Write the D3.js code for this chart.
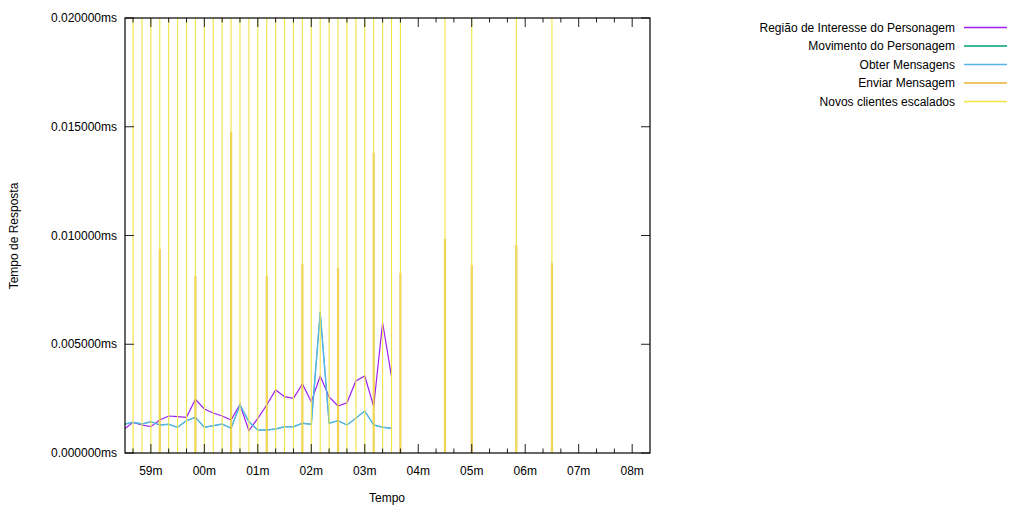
<!DOCTYPE html>
<html><head><meta charset="utf-8">
<script src="https://cdn.jsdelivr.net/npm/d3@7"></script>
<style>
html,body{margin:0;padding:0;background:#fff;}
text{font-family:"Liberation Sans",Arial,sans-serif;font-size:12px;fill:#000;}
</style></head>
<body>
<svg id="c" width="1024" height="512"></svg>
<script>
// ---- DATA (time in seconds relative to 00:59:00) ----
const lineTimes = [-29,-20,-10,0,10,20,30,40,50,60,70,80,90,100,110,120,130,140,150,160,170,180,190,200,210,220,230,240,250,260,270];
const regiaoValues = [0.001126,0.001411,0.001287,0.001209,0.001517,0.001701,0.001669,0.001641,0.002469,0.002023,0.001839,0.001701,0.001517,0.00223,0.001025,0.001595,0.002207,0.002897,0.002589,0.002515,0.003172,0.002359,0.00354,0.002575,0.002161,0.002313,0.00331,0.00354,0.002138,0.0060,0.003508];
const movimentoValues = [0.001333,0.001411,0.001333,0.001439,0.001287,0.00132,0.001182,0.001485,0.001641,0.001182,0.001255,0.001333,0.001136,0.002207,0.001439,0.001057,0.001057,0.001103,0.001209,0.001209,0.001366,0.00132,0.0065,0.001366,0.001485,0.001287,0.001595,0.001931,0.001287,0.001182,0.001136];
const obterValues = [0.001333,0.001411,0.001333,0.001439,0.001287,0.00132,0.001182,0.001485,0.001641,0.001182,0.001255,0.001333,0.001136,0.002207,0.001439,0.001057,0.001057,0.001103,0.001209,0.001209,0.001366,0.00132,0.006437,0.001366,0.001485,0.001287,0.001595,0.001931,0.001287,0.001182,0.001136];
const enviarTimes = [10,50,90,130,170,210,250,280,330,360,410,450];
const enviarValues = [0.00938,0.00814,0.01476,0.00814,0.0087,0.0085,0.0138,0.00828,0.00984,0.00864,0.00956,0.00874];
const novosTimes = [-20,-10,0,10,20,30,40,50,60,70,80,90,100,110,120,130,140,150,160,170,180,190,200,210,220,230,240,250,260,270,280,330,360,410,450];
const xDomainSec = [-29, 560];
const yTickValues = [0,0.005,0.01,0.015,0.02];
const xTickLabels = ["59m","00m","01m","02m","03m","04m","05m","06m","07m","08m"];
const seriesNames = ["Região de Interesse do Personagem","Movimento do Personagem","Obter Mensagens","Enviar Mensagem","Novos clientes escalados"];
const seriesColors = ["#a020f0","#009e73","#56b4e9","#e69f00","#f0e442"];

// ---- CHART ----
const base = Date.UTC(2000,0,1,0,59,0);
const toDate = s => new Date(base + s*1000);
const L=125, R=650, T=18, B=453;
const svg = d3.select("#c");
const x = d3.scaleUtc().domain(xDomainSec.map(toDate)).range([L,R]);
const y = d3.scaleLinear().domain([0,0.02]).range([B,T]);

const majorX = d3.utcMinute.range(toDate(0), toDate(541));
const minorX = d3.utcSecond.every(20).range(toDate(-20), toDate(560)).filter(d => d.getUTCSeconds()!==0);

const g = svg.append("g");
svg.append("clipPath").attr("id","clip").append("rect").attr("x",L).attr("y",T).attr("width",R-L).attr("height",B-T);
const plot = g.append("g").attr("clip-path","url(#clip)");

const line = d3.line().x((d,i)=>x(toDate(lineTimes[i]))).y(d=>y(d));
plot.append("path").datum(regiaoValues).attr("d",line).attr("fill","none").attr("stroke",seriesColors[0]).attr("stroke-width",1.2);
plot.append("path").datum(movimentoValues).attr("d",line).attr("fill","none").attr("stroke",seriesColors[1]).attr("stroke-width",0.8);
plot.append("path").datum(obterValues).attr("d",line).attr("fill","none").attr("stroke",seriesColors[2]).attr("stroke-width",1.4);

plot.selectAll("line.env").data(enviarValues).enter().append("line").attr("class","env")
  .attr("x1",(d,i)=>x(toDate(enviarTimes[i]))).attr("x2",(d,i)=>x(toDate(enviarTimes[i])))
  .attr("y1",y(0)).attr("y2",d=>y(d))
  .attr("stroke",seriesColors[3]).attr("stroke-width",2.2).attr("stroke-opacity",0.6);

plot.selectAll("line.nov").data(novosTimes).enter().append("line").attr("class","nov")
  .attr("x1",d=>x(toDate(d))).attr("x2",d=>x(toDate(d)))
  .attr("y1",y(0)).attr("y2",y(0.02)-5)
  .attr("stroke",seriesColors[4]).attr("stroke-width",1.1);

// axes (gnuplot-style inward ticks, mirrored)
const axG = g.append("g");
const tickStroke = "#222";
majorX.forEach(d=>{
  const xx=x(d);
  axG.append("line").attr("x1",xx).attr("x2",xx).attr("y1",B).attr("y2",B-9).attr("stroke",tickStroke);
  axG.append("line").attr("x1",xx).attr("x2",xx).attr("y1",T).attr("y2",T+9).attr("stroke",tickStroke);
});
minorX.forEach(d=>{
  const xx=x(d);
  axG.append("line").attr("x1",xx).attr("x2",xx).attr("y1",B).attr("y2",B-4.5).attr("stroke",tickStroke);
  axG.append("line").attr("x1",xx).attr("x2",xx).attr("y1",T).attr("y2",T+4.5).attr("stroke",tickStroke);
});
axG.selectAll("text.xt").data(majorX).enter().append("text").attr("class","xt")
  .attr("x",d=>x(d)).attr("y",B+22).attr("text-anchor","middle")
  .text((d,i)=>xTickLabels[i]);
yTickValues.forEach(v=>{
  const yy=y(v);
  axG.append("line").attr("x1",L).attr("x2",L+9).attr("y1",yy).attr("y2",yy).attr("stroke",tickStroke);
  axG.append("line").attr("x1",R).attr("x2",R-9).attr("y1",yy).attr("y2",yy).attr("stroke",tickStroke);
  axG.append("text").attr("x",L-8).attr("y",yy+4).attr("text-anchor","end").text(d3.format(".6f")(v)+"ms");
});
axG.append("rect").attr("x",L).attr("y",T).attr("width",R-L).attr("height",B-T).attr("fill","none").attr("stroke","#000").attr("stroke-width",1.2);

g.append("text").attr("x",387).attr("y",502).attr("text-anchor","middle").text("Tempo");
g.append("text").attr("transform","translate(18,236) rotate(-90)").attr("text-anchor","middle").text("Tempo de Resposta");

// legend
const leg = g.append("g");
seriesNames.forEach((n,i)=>{
  const yy = 27.5 + i*18.5;
  leg.append("text").attr("x",955).attr("y",yy+4).attr("text-anchor","end").text(n);
  leg.append("line").attr("x1",964).attr("x2",1007).attr("y1",yy).attr("y2",yy)
    .attr("stroke",seriesColors[i]).attr("stroke-width",i===3?2.2:1.5).attr("stroke-opacity",i===3?0.6:1);
});
</script>
</body></html>
